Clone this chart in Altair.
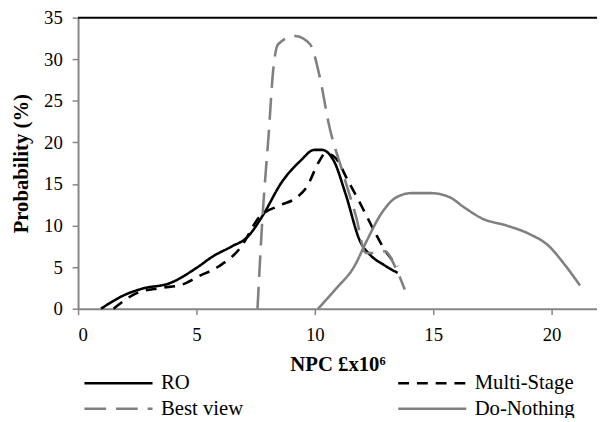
import altair as alt
import pandas as pd

# ---- data ----
ro_x = [0.97, 2.0, 2.7, 3.9, 5.0, 5.7, 6.5, 7.15, 7.8, 8.6, 9.4, 9.98, 10.3, 10.8, 11.3, 11.9, 12.4, 12.9, 13.5]
ro_y = [0.0, 1.7, 2.4, 3.1, 4.9, 6.3, 7.5, 8.6, 11.2, 15.2, 17.8, 19.1, 19.1, 17.8, 13.8, 8.2, 6.3, 5.3, 4.3]

ms_x = [1.5, 2.5, 3.5, 4.4, 5.1, 5.95, 6.85, 7.65, 8.5, 9.25, 9.65, 10.2, 10.45, 10.85, 11.4, 12.0, 12.5, 12.95, 13.5]
ms_y = [0.0, 1.9, 2.5, 2.9, 3.9, 5.1, 7.3, 11.0, 12.4, 13.4, 14.6, 17.8, 18.7, 18.2, 15.4, 12.2, 9.4, 7.1, 5.1]

bv_x = [7.58, 7.8, 8.05, 8.25, 8.45, 9.17, 9.8, 10.2, 10.6, 11.2, 11.75, 12.15, 12.55, 12.95, 13.45, 13.8]
bv_y = [0.0, 11.4, 20.9, 28.9, 31.8, 32.8, 31.8, 28.0, 22.1, 16.2, 11.0, 6.7, 6.7, 6.9, 4.7, 2.3]

dn_x = [10.14, 10.86, 11.67, 12.2, 12.8, 13.45, 14.1, 14.9, 15.7, 16.3, 17.1, 18.1, 19.05, 19.9, 20.5, 21.2]
dn_y = [0.0, 2.3, 5.1, 8.2, 11.4, 13.4, 13.9, 13.9, 13.4, 12.2, 10.8, 10.0, 9.0, 7.5, 5.5, 2.8]

black_names = ["RO", "Multi-Stage"]
grey_names = ["Best view", "Do-Nothing"]
x_ticks = [0, 5, 10, 15, 20]
y_ticks = [0, 5, 10, 15, 20, 25, 30, 35]


def frame(names, xs_list, ys_list):
    parts = []
    for name, xs, ys in zip(names, xs_list, ys_list):
        parts.append(pd.DataFrame({"series": name, "npc": xs, "prob": ys, "order": range(len(xs))}))
    return pd.concat(parts, ignore_index=True)


df_black = frame(black_names, [ro_x, ms_x], [ro_y, ms_y])
df_grey = frame(grey_names, [bv_x, dn_x], [bv_y, dn_y])

FONT = "Liberation Serif, Times New Roman, serif"
GREY = "#868686"
LINE_GREY = "#808080"

x_enc = alt.X("npc:Q",
              scale=alt.Scale(domain=[0, 21.92], nice=False, zero=False),
              axis=alt.Axis(values=x_ticks, title="NPC £x10⁶", grid=False,
                            domainColor=GREY, domainWidth=2, tickColor=GREY, tickWidth=1.5,
                            tickSize=6, labelFont=FONT, labelFontSize=19, labelColor="black",
                            labelPadding=11, titleFont=FONT, titleFontSize=21,
                            titleFontWeight="bold", titleColor="black", titlePadding=10))
y_enc = alt.Y("prob:Q",
              scale=alt.Scale(domain=[0, 35], nice=False),
              axis=alt.Axis(values=y_ticks, title="Probability (%)", grid=False,
                            domainColor=GREY, domainWidth=2, tickColor=GREY, tickWidth=1.5,
                            tickSize=6, labelFont=FONT, labelFontSize=19, labelColor="black",
                            labelPadding=10, titleFont=FONT, titleFontSize=21,
                            titleFontWeight="bold", titleColor="black", titlePadding=12))


def legend(y, col_pad):
    return alt.Legend(title=None, orient="none", legendX=5, legendY=y,
                      columns=2, columnPadding=col_pad,
                      symbolType="stroke", symbolSize=4761,
                      symbolStrokeWidth=2.6, labelFont=FONT,
                      labelFontSize=21, labelColor="black",
                      labelOffset=7, symbolLimit=0)


black = alt.Chart(df_black).mark_line(interpolate="monotone", strokeWidth=2.6).encode(
    x=x_enc, y=y_enc,
    color=alt.Color("series:N", scale=alt.Scale(domain=black_names, range=["black", "black"]),
                    legend=legend(334.5, 205)),
    strokeDash=alt.StrokeDash("series:N", scale=alt.Scale(domain=black_names,
                                                         range=[[1, 0], [11, 8]]),
                              legend=legend(334.5, 205)),
    order="order:Q",
)

grey = alt.Chart(df_grey).mark_line(interpolate="monotone", strokeWidth=2.6).encode(
    x=x_enc, y=y_enc,
    color=alt.Color("series:N", scale=alt.Scale(domain=grey_names, range=[LINE_GREY, LINE_GREY]),
                    legend=legend(360.5, 151)),
    strokeDash=alt.StrokeDash("series:N", scale=alt.Scale(domain=grey_names,
                                                         range=[[22, 10], [1, 0]]),
                              legend=legend(360.5, 151)),
    order="order:Q",
)

top_line = alt.Chart(pd.DataFrame({"v": [35]})).mark_rule(color="black", strokeWidth=2).encode(
    y=alt.Y("v:Q")
)

chart = alt.layer(black, grey, top_line).resolve_scale(
    color="independent", strokeDash="independent"
).properties(
    width=526, height=295,
    autosize=alt.AutoSizeParams(type="none"),
    padding={"left": 71, "top": 7, "right": 0, "bottom": 108},
).configure_view(stroke=None)

chart.save("out.html", embed_options={"renderer": "svg", "actions": False})
